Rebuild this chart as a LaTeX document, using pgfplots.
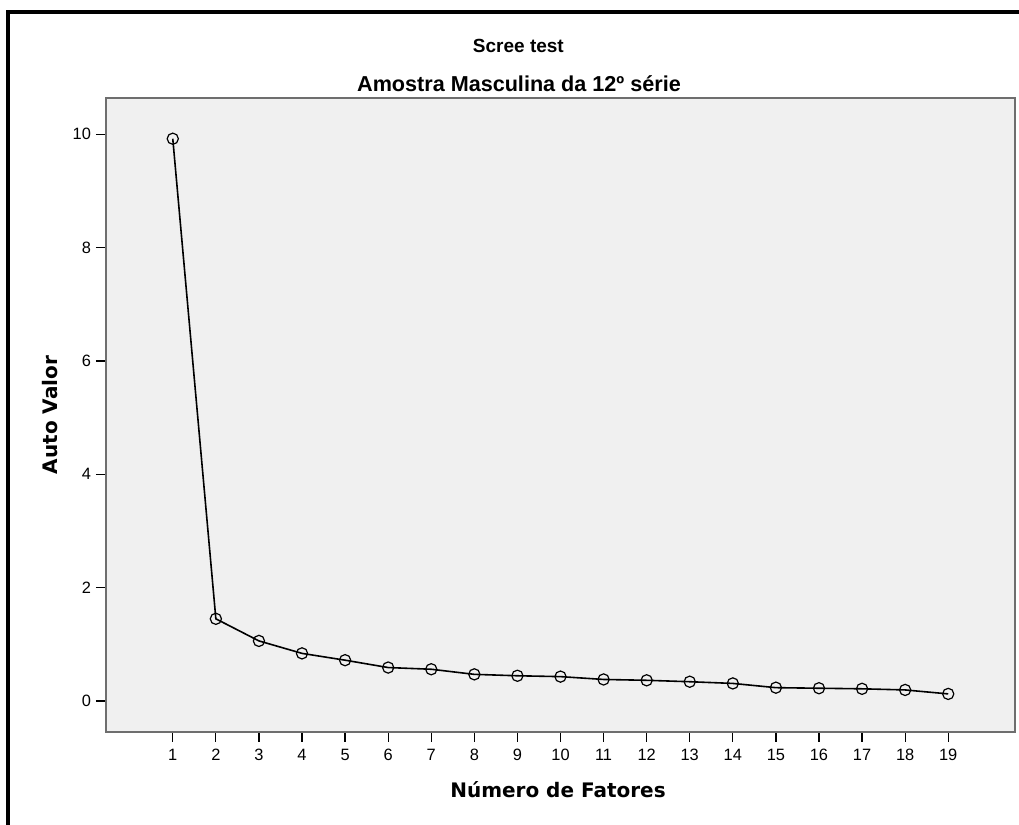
\documentclass[border=0pt]{standalone}
\usepackage{fontspec}
\setmainfont{Liberation Sans}
\newfontfamily\djv{DejaVu Sans}
\usepackage{pgfplots}
\pgfplotsset{compat=1.18}
\definecolor{bg}{RGB}{240,240,240}
\definecolor{frame}{RGB}{110,110,110}
\begin{document}
\begin{tikzpicture}[x=1pt,y=1pt]
\useasboundingbox (0,0) rectangle (509.5,412.5);
\draw[line width=2pt] (4,0) -- (4,406.5) -- (509.5,406.5);
\node[font=\bfseries\fontsize{9.5}{11}\selectfont, anchor=base, inner sep=0pt] at (259.2,386) {Scree test};
\node[font=\bfseries\fontsize{10.8}{13}\selectfont, anchor=base, inner sep=0pt] at (259.5,366.6) {Amostra Masculina da 12º série};
\node[font=\djv\bfseries\fontsize{10}{12}\selectfont] at (279,17.5) {Número de Fatores};
\node[font=\djv\bfseries\fontsize{10}{12}\selectfont, rotate=90] at (25,205) {Auto Valor};
\begin{axis}[
  at={(53pt,46.5pt)}, anchor=south west,
  scale only axis, width=454.5pt, height=316.75pt,
  xmin=-0.55, xmax=20.55, ymin=-0.547, ymax=10.63,
  xtick={1,...,19}, ytick={0,2,4,6,8,10},
  axis background/.style={fill=bg},
  axis line style={draw=frame, line width=1pt},
  tick align=outside, tick pos=left,
  major tick length=5pt,
  tick style={black, line width=0.6pt},
  ticklabel style={font=\fontsize{8.2}{10}\selectfont},
  /pgf/number format/assume math mode=true,
  yticklabel style={xshift=1pt},
  clip=false,
]
\addplot[black, line width=0.8pt, mark=o, mark size=2.8pt, mark options={line width=0.6pt}] coordinates {
(1,9.92) (2,1.45) (3,1.06) (4,0.84) (5,0.72) (6,0.59) (7,0.56) (8,0.47) (9,0.445) (10,0.43)
(11,0.38) (12,0.365) (13,0.34) (14,0.31) (15,0.235) (16,0.225) (17,0.215) (18,0.195) (19,0.125)
};
\end{axis}
\end{tikzpicture}
\end{document}
